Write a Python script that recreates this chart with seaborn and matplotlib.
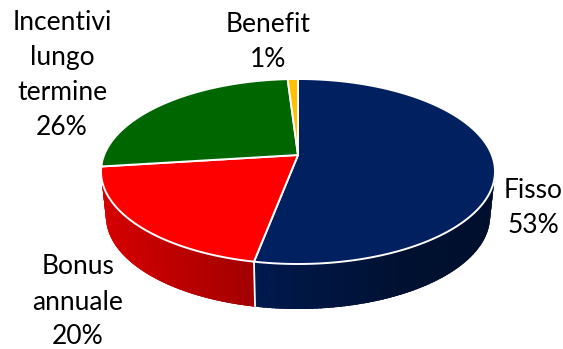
import numpy as np
import matplotlib
matplotlib.use("Agg")
import matplotlib.pyplot as plt
from matplotlib.colors import to_rgb
import seaborn as sns

# Compensation mix, clockwise from twelve o'clock
categories = ["Fisso", "Bonus\nannuale", "Incentivi\nlungo\ntermine", "Benefit"]
shares = [53, 20, 26, 1]
slice_colors = ["#002060", "#FF0000", "#006600", "#FFC000"]
label_anchors = [(533, 208), (78, 302), (62, 75), (268, 42)]

# Tilted disc geometry, in pixels
CX, CY = 298.0, 171.5
RY = 92.5
HUB_RISE = 16.5
TILT = 2 * HUB_RISE / (2 * RY)
AX_X = 197.0 * np.sqrt(1 - TILT ** 2)
DEPTH = 45.0
BASE_SHRINK = 0.975

sns.set_theme(style="white")
plt.rcParams["font.family"] = ["Lato", "DejaVu Sans"]


def project(theta_deg):
    """Perspective image of points on the unit circle."""
    t = np.radians(theta_deg)
    u, v = np.cos(t), np.sin(t)
    w = 1 + TILT * v
    return AX_X * u / w, (RY * v + HUB_RISE) / w


fig, ax = plt.subplots(figsize=(5.63, 3.49), dpi=100)
fig.subplots_adjust(0, 0, 1, 1)
ax.set_xlim(0, 563)
ax.set_ylim(349, 0)
ax.axis("off")

edges = 90 - 3.6 * np.concatenate([[0], np.cumsum(shares)])

# Side wall: the two front slices, painted as overlapping strips left to right
wall_sections = [
    (edges[2], edges[1], slice_colors[1], [-197, -45], [0.84, 0.64]),
    (edges[1], -10.0, slice_colors[0], [-45, 110, 197], [0.82, 0.5, 0.47]),
]
for start, stop, color, shade_x, shade_v in wall_sections:
    grid = np.linspace(start, stop, 90)
    base = np.array(to_rgb(color))
    for a, b in zip(grid[:-1], grid[1:]):
        xa, ya = project(a)
        xb, yb = project(min(b + 1.5, stop))
        tone = base * np.interp((xa + xb) / 2, shade_x, shade_v)
        ax.fill(
            [CX + xa, CX + xb, CX + xb * BASE_SHRINK, CX + xa * BASE_SHRINK],
            [CY - ya, CY - yb, CY - yb + DEPTH, CY - ya + DEPTH],
            facecolor=tone, edgecolor="none", zorder=1,
        )

# Seam between the two wall sections
seam_x, seam_y = project(edges[1])
ax.plot([CX + seam_x, CX + seam_x * BASE_SHRINK], [CY - seam_y, CY - seam_y + DEPTH],
        color="white", lw=1.3, zorder=2, solid_capstyle="butt")

# Top face
hub_y = CY - HUB_RISE
for start, stop, color in zip(edges[:-1], edges[1:], slice_colors):
    x, y = project(np.linspace(start, stop, 160))
    ax.fill(np.r_[CX, CX + x], np.r_[hub_y, CY - y], facecolor=color,
            edgecolor="white", linewidth=1.4, joinstyle="round", zorder=3)

for name, share, (lx, ly) in zip(categories, shares, label_anchors):
    ax.text(lx, ly, f"{name}\n{share}%", ha="center", va="center", color="black",
            fontsize=19, linespacing=1.5, zorder=4)

fig.savefig("out.png", dpi=100)
